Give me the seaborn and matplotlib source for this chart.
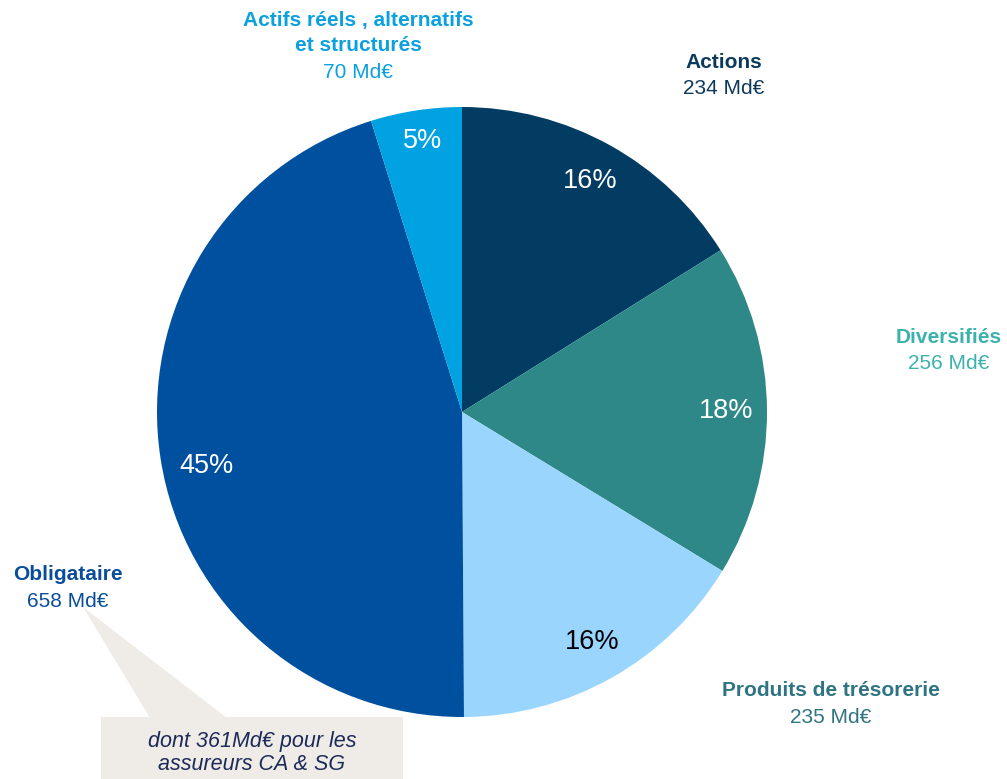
"""
Répartition des encours par classe d'actifs (pie chart with callout).
"""
import matplotlib
matplotlib.use("Agg")
import matplotlib.pyplot as plt
from matplotlib.patches import Polygon, Rectangle
import seaborn as sns

# ── Data ─────────────────────────────────────────────────────────────────────
categories = ["Actions", "Diversifiés", "Produits de trésorerie",
              "Obligataire", "Actifs réels , alternatifs\net structurés"]
encours = [234, 256, 235, 658, 70]          # Md€
slice_colors = ["#023C63", "#2D8887", "#9AD5FE", "#0050A0", "#00A2E1"]
pct_colors = ["white", "white", "black", "white", "white"]
label_colors = ["#0D3A5C", "#3CB2AE", "#2F7482", "#0A4E9B", "#0BA0DE"]
callout_text = "dont 361Md€ pour les\nassureurs CA & SG"

W, H = 1007, 779

sns.set_theme(style="white")
plt.rcParams["font.family"] = ["Liberation Sans", "DejaVu Sans"]

fig = plt.figure(figsize=(W / 100, H / 100), dpi=100)
ax = fig.add_axes([0, 0, 1, 1])


def py(y):
    """pixel row (from top) -> data y"""
    return H - y


# ── Pie ──────────────────────────────────────────────────────────────────────
wedges, texts, autotexts = ax.pie(
    encours,
    colors=slice_colors,
    startangle=90,
    counterclock=False,
    center=(462, py(412)),
    radius=305,
    autopct="%.0f%%",
    pctdistance=0.866,
    textprops=dict(fontsize=19.5),
    wedgeprops=dict(linewidth=0),
    frame=True,
)
ax.set_xlim(0, W)
ax.set_ylim(0, H)
ax.set_aspect("equal")
ax.axis("off")
for t, c in zip(autotexts, pct_colors):
    t.set_color(c)
# PowerPoint-style nudges for the two labels off the wedge bisector
autotexts[3].set_position((206, py(466)))
autotexts[4].set_position((423, py(141)))

# ── Category labels ──────────────────────────────────────────────────────────
label_pos = [(724, 62), (949, 337), (831, 691), (68, 575), (358, 20)]
for i, (name, val) in enumerate(zip(categories, encours)):
    x, y = label_pos[i]
    lines = name.split("\n")
    for k, line in enumerate(lines):
        ax.text(x, py(y + 25.5 * k), line, ha="center", va="center",
                fontsize=15, fontweight="bold", color=label_colors[i])
    ax.text(x, py(y + 25.5 * len(lines) + 1), f"{val} Md€", ha="center",
            va="center", fontsize=15, color=label_colors[i])

# ── Callout ──────────────────────────────────────────────────────────────────
box_color = "#EFECE8"
ax.add_patch(Polygon([(83, py(607)), (150, py(718)), (227, py(718))],
                     closed=True, facecolor=box_color, edgecolor="none"))
ax.add_patch(Rectangle((101, py(779)), 302, 62, facecolor=box_color,
                       edgecolor="none"))
ax.text(252, py(753), callout_text, ha="center", va="center",
        fontsize=15.5, style="italic", color="#1B2A57", linespacing=1.15)

fig.savefig("out.png", dpi=100)
plt.close(fig)
